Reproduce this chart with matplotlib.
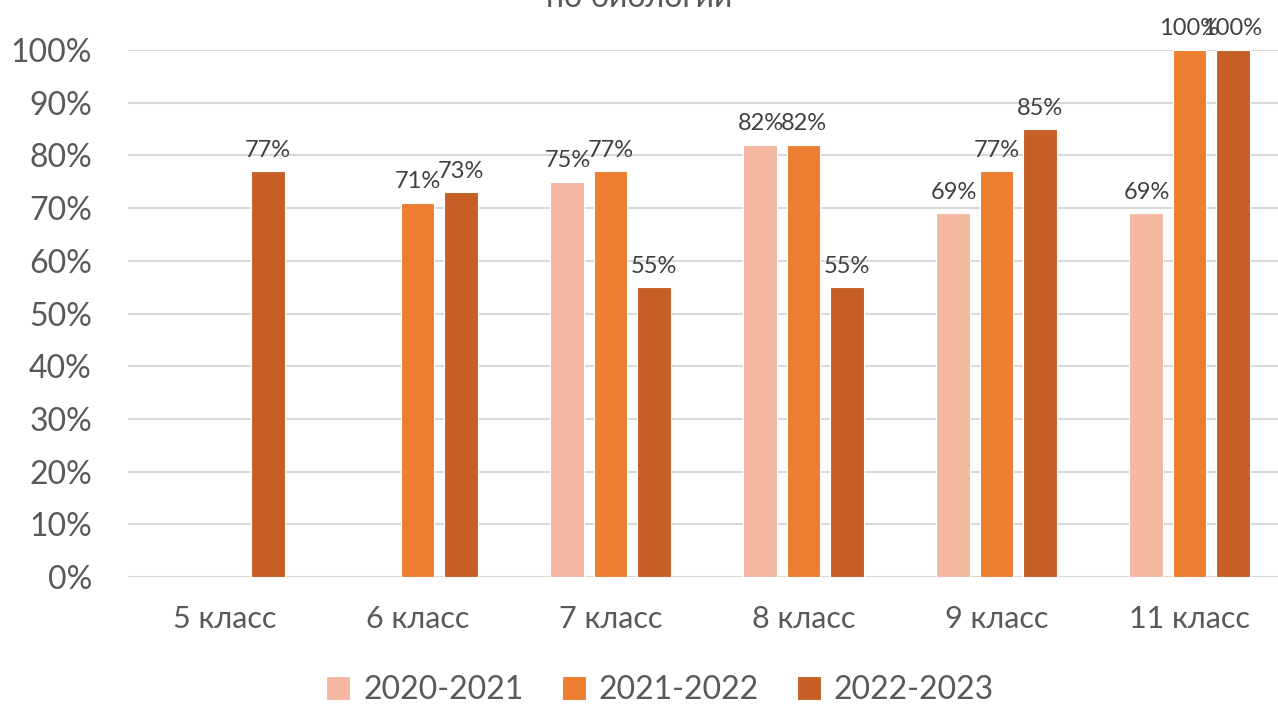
import numpy as np
import matplotlib.pyplot as plt
from matplotlib.ticker import PercentFormatter

classes = ['5 класс', '6 класс', '7 класс', '8 класс', '9 класс', '11 класс']
years = ['2020-2021', '2021-2022', '2022-2023']
v2020 = [None, None, 75, 82, 69, 69]
v2021 = [None, 71, 77, 82, 77, 100]
v2022 = [77, 73, 55, 55, 85, 100]
colors = ['#F4B8A3', '#ED7D31', '#C55F25']

plt.rcParams['font.family'] = ['Lato', 'DejaVu Sans']

fig = plt.figure(figsize=(12.78, 7.09), dpi=100)
ax = fig.add_axes([128 / 1278, 1 - 577 / 709, 1158 / 1278, 527 / 709])

x = np.arange(len(classes))
width = 0.176
step = 0.223
for i, (vals, name) in enumerate(zip([v2020, v2021, v2022], years)):
    xs = [xi + (i - 1) * step for xi, v in zip(x, vals) if v is not None]
    ys = [v for v in vals if v is not None]
    bars = ax.bar(xs, ys, width, color=colors[i], edgecolor='white', linewidth=0.8,
                  label=name, zorder=3)
    for b, v in zip(bars, ys):
        ax.text(b.get_x() + b.get_width() / 2, v + 2.0, f'{v}%', ha='center', va='bottom',
                fontsize=17, color='#404040')

ax.set_xlim(-0.5, 5.5)
ax.set_ylim(0, 100)
ax.set_yticks(range(0, 101, 10))
ax.yaxis.set_major_formatter(PercentFormatter(decimals=0))
ax.set_xticks(x)
ax.set_xticklabels(classes)
ax.tick_params(axis='y', labelsize=23, labelcolor='#595959', length=0, pad=26)
ax.tick_params(axis='x', labelsize=22, labelcolor='#595959', length=0, pad=20)
ax.grid(axis='y', color='#D9D9D9', linewidth=1.5, zorder=0)
for s in ax.spines.values():
    s.set_visible(False)
ax.axhline(0, color='#D9D9D9', linewidth=1.5, zorder=1)

fig.text(0.5, 1.003, 'по биологии', ha='center', va='center', fontsize=23, color='#595959')

ax.legend(loc='center', bbox_to_anchor=(660 / 1278, 1 - 690 / 709), bbox_transform=fig.transFigure,
          ncol=3, frameon=False, fontsize=23, labelcolor='#595959', handlelength=0.75,
          handleheight=0.75, handletextpad=0.4, columnspacing=1.2)

fig.savefig('out.png', dpi=100)
